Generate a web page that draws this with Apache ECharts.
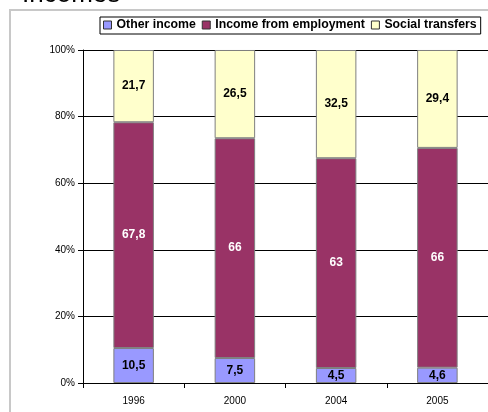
<!DOCTYPE html>
<html>
<head>
<meta charset="utf-8">
<script src="https://cdn.jsdelivr.net/npm/echarts@6/dist/echarts.min.js"></script>
<style>
  html, body { margin: 0; padding: 0; background: #fff; }
  #chart { width: 488px; height: 412px; }
</style>
</head>
<body>
<div id="chart"></div>
<script>
// Household income structure by source, shares in percent
const years = ['1996', '2000', '2004', '2005'];
const otherIncome = [10.5, 7.5, 4.5, 4.6];
const employmentIncome = [67.8, 66, 63, 66];
const socialTransfers = [21.7, 26.5, 32.5, 29.4];
const yTicks = [0, 20, 40, 60, 80, 100];

const fmt = v => String(v).replace('.', ',');

const chart = echarts.init(document.getElementById('chart'));

function barSeries(name, data, color, labelColor) {
  return {
    name: name,
    type: 'bar',
    stack: 'total',
    data: data,
    barWidth: '40%',
    itemStyle: { color: color, borderColor: '#7f7f7f', borderWidth: 1 },
    label: {
      show: true,
      position: 'inside',
      color: labelColor,
      fontFamily: 'Liberation Sans, Arial, sans-serif',
      fontWeight: 'bold',
      fontSize: 12,
      formatter: p => fmt(p.value)
    }
  };
}

chart.setOption({
  animation: false,
  backgroundColor: '#fff',
  graphic: [
    {
      type: 'text',
      left: 22,
      top: -18,
      style: {
        text: 'Incomes',
        fontFamily: 'Liberation Sans, Arial, sans-serif',
        fontSize: 26,
        fill: '#000'
      }
    },
    {
      type: 'rect',
      shape: { x: 10, y: 10, width: 490, height: 420 },
      style: { fill: 'none', stroke: '#c8c8c8', lineWidth: 2 }
    }
  ],
  legend: {
    left: 100,
    top: 17,
    padding: [2, 4, 3, 3],
    itemGap: 6,
    itemWidth: 8,
    itemHeight: 8,
    icon: 'rect',
    borderColor: '#000',
    borderWidth: 1,
    backgroundColor: '#fff',
    textStyle: {
      fontFamily: 'Liberation Sans, Arial, sans-serif',
      fontWeight: 'bold',
      fontSize: 12.3,
      color: '#000'
    },
    itemStyle: { borderColor: '#333', borderWidth: 1 }
  },
  grid: { left: 83, top: 50, width: 408, height: 333, containLabel: false },
  xAxis: {
    type: 'category',
    data: years,
    axisLine: { lineStyle: { color: '#000', width: 1 } },
    axisTick: { show: true, length: 5, lineStyle: { color: '#000' } },
    axisLabel: {
      margin: 13,
      fontFamily: 'Liberation Sans, Arial, sans-serif',
      fontSize: 10,
      color: '#000'
    }
  },
  yAxis: {
    type: 'value',
    min: yTicks[0],
    max: yTicks[yTicks.length - 1],
    interval: 20,
    axisLine: { show: true, lineStyle: { color: '#000', width: 1 } },
    axisTick: { show: true, length: 5, lineStyle: { color: '#000' } },
    axisLabel: {
      margin: 8,
      fontFamily: 'Liberation Sans, Arial, sans-serif',
      fontSize: 10,
      color: '#000',
      formatter: v => v + '%'
    },
    splitLine: { show: true, lineStyle: { color: '#000', width: 1 } }
  },
  series: [
    barSeries('Other income', otherIncome, '#9999ff', '#000'),
    barSeries('Income from employment', employmentIncome, '#993366', '#fff'),
    barSeries('Social transfers', socialTransfers, '#ffffcc', '#000')
  ]
});
</script>
</body>
</html>
